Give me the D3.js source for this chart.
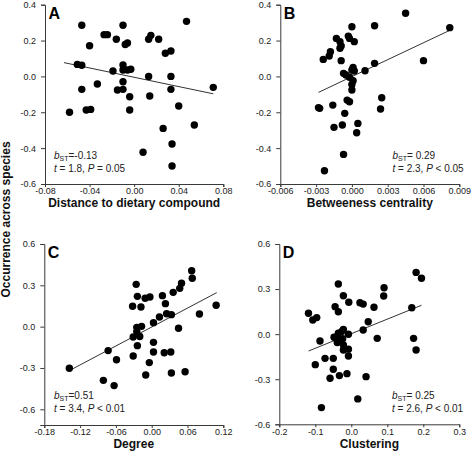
<!DOCTYPE html>
<html><head><meta charset="utf-8">
<script src="https://cdn.jsdelivr.net/npm/d3@7"></script>
<style>
html,body{margin:0;padding:0;background:#fff;}
svg{display:block;font-family:"Liberation Sans",Arial,sans-serif;}
</style></head>
<body>
<svg id="chart" width="472" height="457"></svg>
<script>
// ---------- data ----------
const aX = [-0.047,0.047,-0.027,-0.024,-0.040,-0.016,-0.010,-0.008,-0.006,0.015,0.013,0.022,0.028,0.033,-0.051,-0.047,-0.010,-0.010,-0.019,-0.006,-0.003,0.013,0.033,-0.010,-0.033,-0.047,-0.015,-0.010,0.033,0.071,-0.004,0.014,-0.058,-0.043,-0.039,-0.004,0.040,0.026,0.054,0.008,0.034,0.034];
const aY = [0.285,0.307,0.233,0.233,0.171,0.207,0.285,0.178,0.186,0.229,0.207,0.207,0.129,0.142,0.067,0.062,0.064,0.036,0.030,0.036,0.040,0.000,0.000,-0.030,-0.042,-0.072,-0.076,-0.072,-0.072,-0.061,-0.113,-0.109,-0.200,-0.187,-0.184,-0.187,-0.165,-0.290,-0.271,-0.423,-0.377,-0.500];

const bX = [0.0045,0.0082,0.0019,0.0000,-0.0013,-0.0010,-0.0009,-0.0010,-0.0003,-0.0002,0.0002,-0.0018,-0.0019,-0.0024,-0.0009,0.0000,0.0001,-0.0007,-0.0005,-0.0002,0.0001,0.0000,0.0000,0.0011,0.0019,0.0060,-0.0028,-0.0027,-0.0016,-0.0004,-0.0002,-0.0006,-0.0015,-0.0008,0.0005,0.0004,0.0025,0.0024,-0.0007,-0.0023,0.0002];
const bY = [0.352,0.272,0.283,0.277,0.212,0.194,0.170,0.157,0.225,0.212,0.194,0.138,0.114,0.095,0.088,0.036,0.050,0.017,0.008,-0.005,-0.024,-0.045,-0.076,0.032,0.073,0.088,-0.174,-0.178,-0.160,-0.132,-0.141,-0.206,-0.284,-0.271,-0.262,-0.314,-0.119,-0.182,-0.435,-0.526,0.030];

const cX = [0.067,0.068,0.050,0.047,0.036,-0.026,-0.024,-0.011,-0.003,0.018,-0.032,-0.018,0.023,0.025,0.033,0.013,0.080,0.108,0.003,0.045,-0.025,-0.017,-0.025,-0.031,-0.020,-0.024,0.003,-0.073,-0.059,-0.031,0.003,0.021,0.032,-0.004,-0.010,0.033,0.056,-0.138,-0.081,-0.063];
const cY = [0.406,0.351,0.315,0.278,0.249,0.307,0.220,0.206,0.215,0.225,0.148,0.143,0.167,0.094,0.087,0.070,0.092,0.155,0.029,-0.012,-0.005,0.002,-0.036,-0.075,-0.072,-0.138,-0.114,-0.174,-0.240,-0.213,-0.184,-0.189,-0.184,-0.261,-0.351,-0.336,-0.327,-0.302,-0.390,-0.428];

const dX = [0.180,0.195,0.091,0.090,-0.036,-0.022,-0.045,-0.036,-0.007,0.024,0.033,0.063,0.168,-0.119,-0.107,-0.096,0.047,-0.087,-0.048,-0.040,-0.036,-0.027,-0.022,-0.008,-0.024,0.033,0.072,0.173,0.180,-0.039,-0.022,-0.022,-0.008,-0.008,-0.100,-0.073,-0.050,-0.050,-0.059,-0.033,-0.012,0.041,0.018,-0.083];
const dY = [0.411,0.372,0.309,0.254,0.334,0.256,0.183,0.149,0.212,0.209,0.200,0.179,0.176,0.139,0.094,0.110,0.083,-0.046,-0.021,-0.017,0.006,0.017,0.032,-0.001,-0.031,0.028,-0.028,-0.028,-0.105,-0.056,-0.072,-0.105,-0.100,-0.145,-0.203,-0.161,-0.161,-0.234,-0.294,-0.276,-0.263,-0.283,-0.431,-0.489];

// regression line end points [x0, x1], [y0, y1]
const aLineX = [-0.063, 0.071], aLineY = [0.077, -0.097];
const bLineX = [-0.0028, 0.0082], bLineY = [-0.089, 0.257];
const cLineX = [-0.138, 0.109], cLineY = [-0.319, 0.247];
const dLineX = [-0.1185, 0.195], dLineY = [-0.112, 0.192];

// ticks
const aXTicks = [-0.08,-0.04,0,0.04,0.08], aXLabels = ["-0.08","-0.04","0.00","0.04","0.08"];
const bXTicks = [-0.006,-0.003,0,0.003,0.006,0.009], bXLabels = ["-0.006","-0.003","0.000","0.003","0.006","0.009"];
const cXTicks = [-0.18,-0.12,-0.06,0,0.06,0.12], cXLabels = ["-0.18","-0.12","-0.06","0.00","0.06","0.12"];
const dXTicks = [-0.2,-0.1,0,0.1,0.2,0.3], dXLabels = ["-0.2","-0.1","0.0","0.1","0.2","0.3"];
const topYTicks = [-0.6,-0.4,-0.2,0,0.2,0.4], topYLabels = ["-0.6","-0.4","-0.2","0.0","0.2","0.4"];
const botYTicks = [-0.6,-0.3,0,0.3,0.6], botYLabels = ["-0.6","-0.3","0.0","0.3","0.6"];

const letters = ["A","B","C","D"];
const xTitles = ["Distance to dietary compound","Betweeness centrality","Degree","Clustering"];
const bValues = ["=-0.13","= 0.29","=0.51","= 0.25"];
const tValues = ["1.8","2.3","3.4","2.6"];
const pValues = ["= 0.05","< 0.05","< 0.01","< 0.01"];
const yTitle = "Occurrence across species";

// ---------- layout ----------
const svg = d3.select("#chart");
const panels = [
  {xs:aX, ys:aY, lx:aLineX, ly:aLineY, xd:[-0.08,0.08], yd:[-0.6,0.4], xr:[45,223.3], yr:[184,4.7], xt:aXTicks, xl:aXLabels, yt:topYTicks, yl:topYLabels, ann:[54,158.5], titleY:206.5},
  {xs:bX, ys:bY, lx:bLineX, ly:bLineY, xd:[-0.006,0.009], yd:[-0.6,0.4], xr:[280.3,459.3], yr:[184,4.7], xt:bXTicks, xl:bXLabels, yt:topYTicks, yl:topYLabels, ann:[392.5,158.5], titleY:206.5},
  {xs:cX, ys:cY, lx:cLineX, ly:cLineY, xd:[-0.18,0.12], yd:[-0.714,0.6], xr:[44.3,223.3], yr:[425,244], xt:cXTicks, xl:cXLabels, yt:botYTicks, yl:botYLabels, ann:[54,398.5], titleY:447.5},
  {xs:dX, ys:dY, lx:dLineX, ly:dLineY, xd:[-0.2,0.3], yd:[-0.6,0.6], xr:[279.3,459.3], yr:[424.3,244], xt:dXTicks, xl:dXLabels, yt:botYTicks, yl:botYLabels, ann:[392,398.5], titleY:447.5}
];

const axisColor = "#3a3a3a";
panels.forEach((p, i) => {
  const x = d3.scaleLinear().domain(p.xd).range(p.xr);
  const y = d3.scaleLinear().domain(p.yd).range(p.yr);
  const g = svg.append("g");

  const xAxis = d3.axisBottom(x).tickValues(p.xt).tickSize(3).tickPadding(1)
      .tickFormat((d, k) => p.xl[k]);
  const yAxis = d3.axisLeft(y).tickValues(p.yt).tickSize(4).tickPadding(5)
      .tickFormat((d, k) => p.yl[k]);

  const gx = g.append("g").attr("transform", `translate(0,${p.yr[0]})`).call(xAxis);
  const gy = g.append("g").attr("transform", `translate(${p.xr[0]},0)`).call(yAxis);
  [gx, gy].forEach(ax => {
    ax.select(".domain").attr("stroke", axisColor).attr("stroke-width", 1);
    ax.selectAll(".tick line").attr("stroke", axisColor);
    ax.selectAll(".tick text").attr("fill", "#222").style("font-size", "9px")
      .style("font-family", '"Liberation Sans", Arial, sans-serif');
  });

  // regression line
  g.append("line")
    .attr("x1", x(p.lx[0])).attr("y1", y(p.ly[0]))
    .attr("x2", x(p.lx[1])).attr("y2", y(p.ly[1]))
    .attr("stroke", "#333").attr("stroke-width", 1);

  // points
  g.selectAll("circle").data(p.xs.map((v, k) => [v, p.ys[k]])).join("circle")
    .attr("cx", d => x(d[0])).attr("cy", d => y(d[1])).attr("r", 3.7).attr("fill", "#000");

  // panel letter
  g.append("text").attr("x", p.xr[0] + 3.5).attr("y", p.yr[1] + 13.8)
    .style("font-size", "16px").style("font-weight", "bold").attr("fill", "#000").text(letters[i]);

  // x title
  g.append("text").attr("x", (p.xr[0] + p.xr[1]) / 2).attr("y", p.titleY)
    .attr("text-anchor", "middle").style("font-size", "12px").style("font-weight", "bold")
    .attr("fill", "#111").text(xTitles[i]);

  // annotation
  const t1 = g.append("text").attr("x", p.ann[0]).attr("y", p.ann[1]).style("font-size", "10px").attr("fill", "#222");
  t1.append("tspan").style("font-style", "italic").text("b");
  t1.append("tspan").attr("dy", 2.5).style("font-size", "7px").text("ST");
  t1.append("tspan").attr("dy", -2.5).text(bValues[i]);
  const t2 = g.append("text").attr("x", p.ann[0]).attr("y", p.ann[1] + 13).style("font-size", "10px").attr("fill", "#222");
  t2.append("tspan").style("font-style", "italic").text("t");
  t2.append("tspan").text(" = " + tValues[i] + ", ");
  t2.append("tspan").style("font-style", "italic").text("P");
  t2.append("tspan").text(" " + pValues[i]);
});

// y title
svg.append("text").attr("transform", "translate(10,219.5) rotate(-90)")
  .attr("text-anchor", "middle").style("font-size", "12px").style("font-weight", "bold")
  .attr("fill", "#111").text(yTitle);
</script>
</body></html>
